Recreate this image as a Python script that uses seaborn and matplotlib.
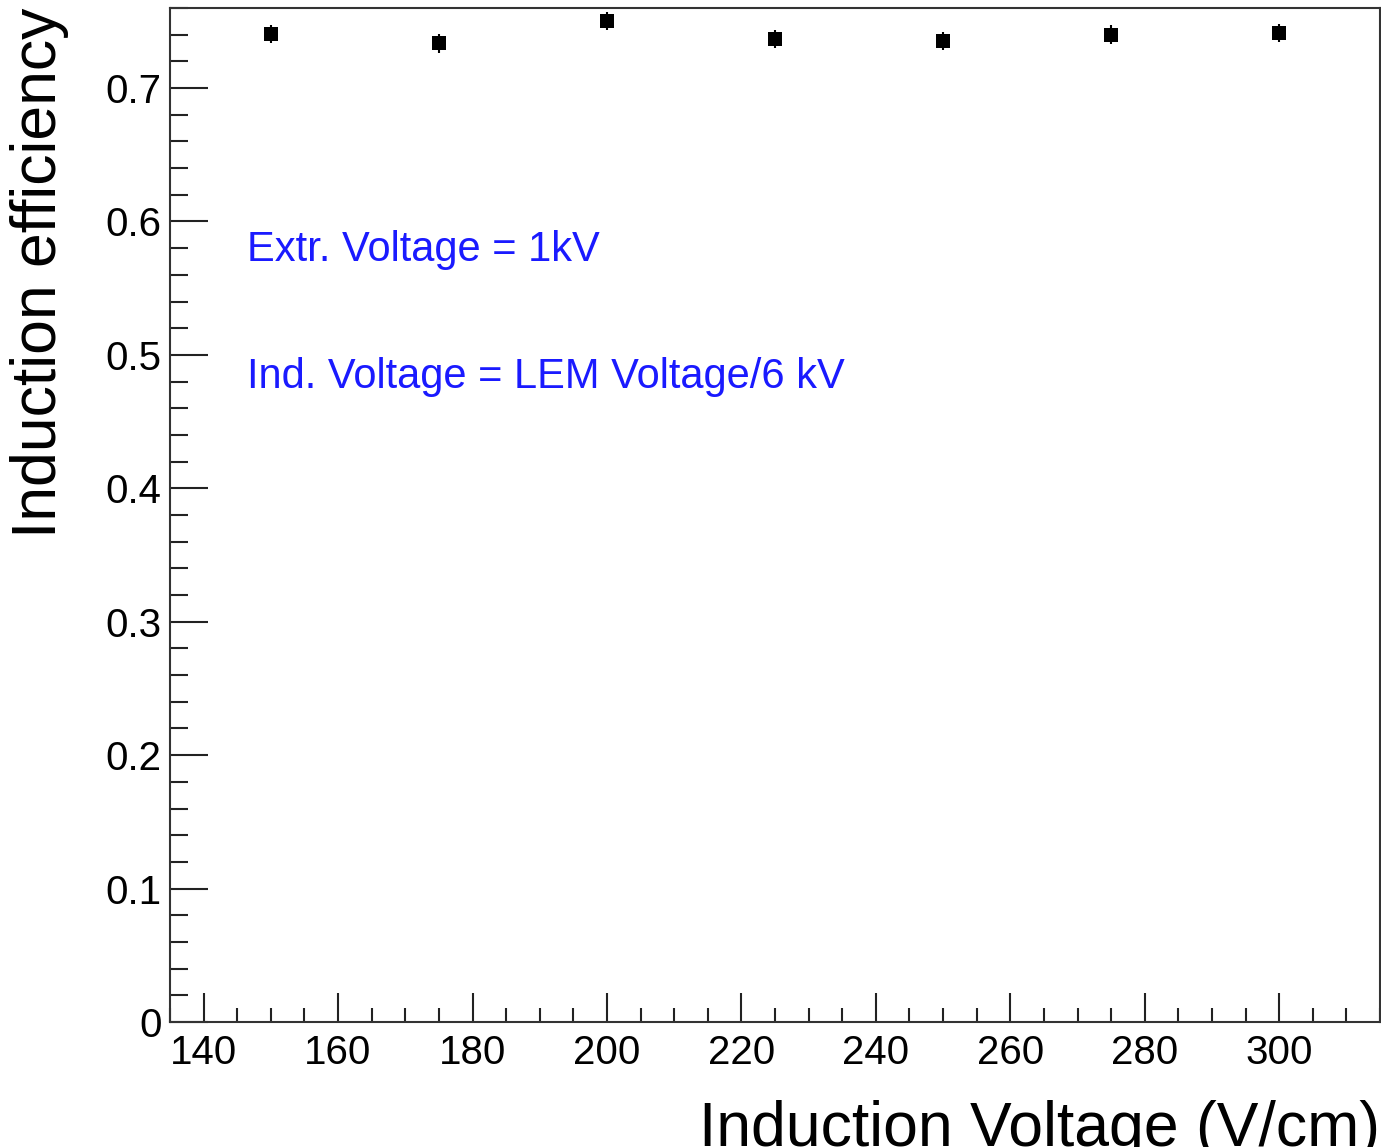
import matplotlib
matplotlib.use("Agg")
import matplotlib.pyplot as plt
import seaborn as sns
import pandas as pd
from matplotlib.ticker import MultipleLocator

# data
voltage = [150, 175, 200, 225, 250, 275, 300]
efficiency = [0.7405, 0.7335, 0.7503, 0.7368, 0.7352, 0.7400, 0.7413]
eff_err = [0.007, 0.007, 0.007, 0.007, 0.007, 0.007, 0.007]

sns.set_theme(style="white")
plt.rcParams['font.family'] = ['Liberation Sans', 'DejaVu Sans']
plt.rcParams['text.color'] = 'black'
plt.rcParams['axes.labelcolor'] = 'black'

df = pd.DataFrame({'voltage': voltage, 'eff': efficiency, 'err': eff_err})

fig = plt.figure(figsize=(13.81, 11.47), dpi=100)
ax = fig.add_axes([0.1231, 0.109, 0.8762, 0.884])

ax.errorbar(df['voltage'], df['eff'], yerr=df['err'], fmt='none',
            ecolor='black', elinewidth=1.5, capsize=0, zorder=2)
sns.scatterplot(data=df, x='voltage', y='eff', marker='s', color='black',
                s=90, edgecolor='black', linewidth=0, ax=ax, zorder=3)

ax.set_xlim(135, 315)
ax.set_ylim(0, 0.76)
ax.xaxis.set_major_locator(MultipleLocator(20))
ax.xaxis.set_minor_locator(MultipleLocator(5))
ax.set_yticks([0, 0.1, 0.2, 0.3, 0.4, 0.5, 0.6, 0.7])
ax.set_yticklabels(['0', '0.1', '0.2', '0.3', '0.4', '0.5', '0.6', '0.7'])
ax.yaxis.set_minor_locator(MultipleLocator(0.02))

ax.tick_params(axis='both', which='both', direction='in', bottom=True, left=True,
               top=False, right=False, colors='#222222', labelcolor='black',
               labelsize=29)
ax.tick_params(axis='y', which='major', length=27, width=1.5, pad=6)
ax.tick_params(axis='y', which='minor', length=13, width=1.5)
ax.tick_params(axis='x', which='major', length=21, width=1.5, pad=9)
ax.tick_params(axis='x', which='minor', length=10, width=1.5)

for side in ['left', 'bottom', 'top', 'right']:
    ax.spines[side].set_visible(True)
    ax.spines[side].set_color('#333333')
    ax.spines[side].set_linewidth(1.5)

ax.set_xlabel('Induction Voltage (V/cm)', fontsize=45, loc='right', labelpad=20)
ax.set_ylabel('Induction efficiency', fontsize=45, loc='top', labelpad=26)

ax.text(146.4, 0.5787, 'Extr. Voltage = 1kV', color='#1a1aff', fontsize=30,
        va='center', ha='left')
ax.text(146.4, 0.4832, 'Ind. Voltage = LEM Voltage/6 kV', color='#1a1aff', fontsize=30,
        va='center', ha='left')

fig.savefig('out.png', dpi=100)
